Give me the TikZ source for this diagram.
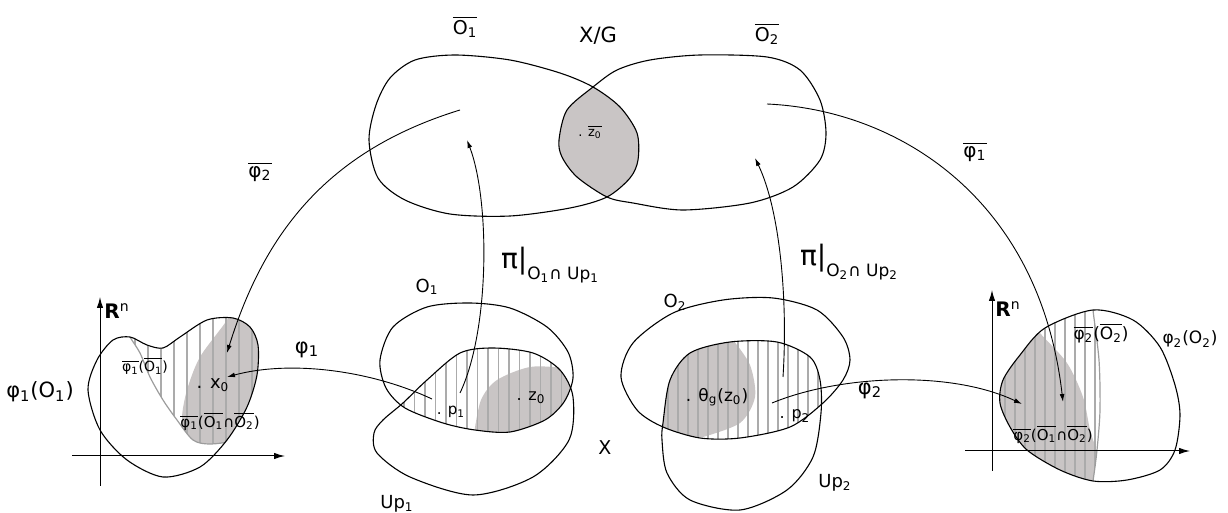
\documentclass[tikz,border=0pt]{standalone}
\usepackage{fontspec}
\setmainfont{DejaVu Sans}
\usetikzlibrary{arrows.meta}
\definecolor{shadeGrey}{HTML}{C9C5C5}
\definecolor{hatchGrey}{HTML}{ABABAB}
\definecolor{rimGrey}{HTML}{9C9C9C}

\newcommand{\ovl}[1]{$\overline{\hbox{#1}}$}
\newcommand{\fsz}[1]{\fontsize{#1}{#1}\selectfont}

% outlines, in pixel units
\newcommand{\quotOne}{plot[smooth cycle] coordinates {(369,140) (376,105) (390,78) (415,60) (455,55) (510,60) (560,73) (593,87) (620,107) (637,133) (638,160) (630,178) (607,197) (570,208) (510,216) (450,214) (405,200) (378,178)}}
\newcommand{\quotTwo}{plot[smooth cycle] coordinates {(559,140) (567,110) (593,87) (617,70) (650,60) (700,55) (767,57) (800,70) (820,100) (826,133) (820,160) (793,187) (750,203) (683,210) (633,203) (607,197) (577,177) (562,157)}}
\newcommand{\chartOne}{plot[smooth cycle] coordinates {(380,360) (393,327) (427,307) (470,303) (510,308) (547,327) (568,352) (573,378) (564,402) (545,420) (510,432) (475,430) (443,423) (405,408) (386,388)}}
\newcommand{\patchOne}{plot[smooth cycle] coordinates {(427,380) (460,353) (493,348) (533,353) (560,370) (573,397) (569,440) (533,477) (473,495) (410,477) (377,453) (374,433) (383,420) (403,403)}}
\newcommand{\chartTwo}{plot[smooth cycle] coordinates {(621,377) (633,343) (673,313) (723,300) (773,298) (817,310) (843,337) (850,360) (843,380) (823,403) (790,427) (740,438) (700,438) (663,427) (637,410)}}
\newcommand{\patchTwo}{plot[smooth cycle] coordinates {(663,423) (670,380) (690,353) (730,342) (777,342) (810,357) (820,380) (821,413) (813,457) (787,490) (740,510) (690,500) (667,473) (662,440)}}
\newcommand{\imgOne}{plot[smooth cycle] coordinates {(88,390) (100,430) (127,460) (163,477) (200,467) (227,440) (247,407) (257,375) (258,345) (250,327) (233,318) (207,320) (180,337) (163,348) (147,345) (130,337) (113,340) (97,360)}}
\newcommand{\imgOneEdge}{plot[smooth] coordinates {(125,325) (130,337) (140,353) (150,377) (163,400) (177,420) (193,440) (210,444) (235,440) (265,425)}}
\newcommand{\imgTwo}{plot[smooth cycle] coordinates {(1093,310) (1133,320) (1160,347) (1175,385) (1180,415) (1175,450) (1160,470) (1127,480) (1093,481) (1060,470) (1027,450) (1010,427) (1000,403) (1003,380) (1020,355) (1045,328)}}
\newcommand{\imgTwoEdge}{plot[smooth] coordinates {(1093,300) (1093,310) (1099,360) (1100,410) (1097,450) (1093,481) (1090,495)}}

\tikzset{
  outline/.style={line width=0.55pt},
  hatch/.style={hatchGrey, line width=0.8pt},
  rim/.style={rimGrey, line width=0.6pt},
  arr/.style={-{Latex[length=4pt,width=2.4pt]}, line width=0.45pt},
  axis/.style={-{Latex[length=5.5pt,width=3.2pt]}, line width=0.5pt},
}

\begin{document}
\begin{tikzpicture}[x=0.5pt,y=-0.5pt]
  \useasboundingbox (0,0) rectangle (1228,513);

  % quotient X/G
  \begin{scope}
    \clip \quotTwo;
    \fill[shadeGrey] \quotOne;
  \end{scope}
  \draw[outline] \quotOne;
  \draw[outline] \quotTwo;

  % X, first chart
  \begin{scope}
    \clip \chartOne;
    \clip \patchOne;
    \fill[shadeGrey] (600,450) -- (472,450) -- plot[smooth] coordinates {(474,434) (481,400) (497,380) (530,367) (565,368) (600,372)} -- cycle;
    \foreach \x in {404,414.5,...,575} \draw[hatch] (\x,340) -- (\x,440);
  \end{scope}
  \draw[outline] \chartOne;
  \draw[outline] \patchOne;

  % X, second chart
  \begin{scope}
    \clip \chartTwo;
    \clip \patchTwo;
    \fill[shadeGrey] (630,330) -- (733,336) -- plot[smooth] coordinates {(733,340) (750,365) (755,397) (740,423) (703,437)} -- (630,450) -- cycle;
    \foreach \x in {668,678,...,822} \draw[hatch] (\x,330) -- (\x,445);
  \end{scope}
  \draw[outline] \chartTwo;
  \draw[outline] \patchTwo;

  % image of first chart
  \begin{scope}
    \clip \imgOne;
    \clip \imgOneEdge -- (300,425) -- (300,290) -- (120,290) -- cycle;
    \fill[shadeGrey] plot[smooth] coordinates {(235,300) (227,320) (200,357) (187,390) (182,417) (185,435) (195,446) (205,455)} -- (290,455) -- (290,300) -- cycle;
    \foreach \x in {122,135,...,262} \draw[hatch] (\x,300) -- (\x,460);
  \end{scope}
  \begin{scope}
    \clip \imgOne;
    \draw[rim] \imgOneEdge;
  \end{scope}
  \draw[axis] (72,456) -- (285,456);
  \draw[axis] (100,486) -- (100,297);
  \draw[outline] \imgOne;

  % image of second chart
  \begin{scope}
    \clip \imgTwo;
    \clip \imgTwoEdge -- (980,495) -- (980,300) -- cycle;
    \fill[shadeGrey] plot[smooth] coordinates {(1030,318) (1040,333) (1067,363) (1083,397) (1090,430) (1097,455) (1093,482) (1090,495)} -- (980,495) -- (980,318) -- cycle;
    \foreach \x in {1005,1015,...,1100} \draw[hatch] (\x,300) -- (\x,490);
  \end{scope}
  \begin{scope}
    \clip \imgTwo;
    \draw[rim] \imgTwoEdge;
  \end{scope}
  \draw[axis] (965,451) -- (1190,451);
  \draw[axis] (992,471) -- (992,290);
  \draw[outline] \imgTwo;

  % arrow ends
  \coordinate (barTwoFrom) at (460,110);
  \coordinate (barTwoTo) at (227,353);
  \coordinate (barOneFrom) at (767,104);
  \coordinate (barOneTo) at (1063,402);
  \coordinate (piOneFrom) at (460,393);
  \coordinate (piOneTo) at (467,140);
  \coordinate (piTwoFrom) at (783,377);
  \coordinate (piTwoTo) at (755,158);
  \coordinate (phiOneFrom) at (432,399);
  \coordinate (phiOneTo) at (227,377);
  \coordinate (phiTwoFrom) at (772,403);
  \coordinate (phiTwoTo) at (1022,404);

  \draw[arr] (barTwoFrom) .. controls (330,150) and (265,230) .. (barTwoTo);
  \draw[arr] (barOneFrom) .. controls (900,110) and (1040,200) .. (barOneTo);
  \draw[arr] (piOneFrom) .. controls (490,330) and (490,200) .. (piOneTo);
  \draw[arr] (piTwoFrom) .. controls (788,300) and (780,210) .. (piTwoTo);
  \draw[arr] (phiOneFrom) .. controls (370,370) and (290,360) .. (phiOneTo);
  \draw[arr] (phiTwoFrom) .. controls (840,375) and (950,370) .. (phiTwoTo);

  % labels
  \node[font=\fsz{9.5}] (lblQuotOne) at (465,27) {\ovl{O\textsubscript{1}}};
  \node[font=\fsz{10.5}] (lblXG) at (598,36) {X/G};
  \node[font=\fsz{9.5}] (lblQuotTwo) at (767,34) {\ovl{O\textsubscript{2}}};
  \node[font=\fsz{6.5}] (lblZBar) at (590,132) {. \ovl{z\textsubscript{0}}};
  \node[font=\fsz{10}] (lblBarTwo) at (260,172) {\ovl{φ\textsubscript{2}}};
  \node[font=\fsz{10}] (lblBarOne) at (975,152) {\ovl{φ\textsubscript{1}}};
  \node[font=\fsz{14}, anchor=west] (lblPiOne) at (494,265) {π|\raisebox{-0.7ex}{\fsz{8.5}O\textsubscript{1}∩ Up\textsubscript{1}}};
  \node[font=\fsz{14}, anchor=west] (lblPiTwo) at (793,262) {π|\raisebox{-0.7ex}{\fsz{8.5}O\textsubscript{2}∩ Up\textsubscript{2}}};
  \node[font=\fsz{10.5}] (lblPhiOne) at (307,350) {φ\textsubscript{1}};
  \node[font=\fsz{10.5}] (lblPhiTwo) at (870,391) {φ\textsubscript{2}};
  \node[font=\fsz{9}] (lblChartOne) at (427,287) {O\textsubscript{1}};
  \node[font=\fsz{9}] (lblChartTwo) at (675,302) {O\textsubscript{2}};
  \node[font=\fsz{9}] (lblPatchOne) at (397,504) {Up\textsubscript{1}};
  \node[font=\fsz{9}] (lblPatchTwo) at (835,483) {Up\textsubscript{2}};
  \node[font=\fsz{9.5}] (lblX) at (605,448) {X};
  \node[font=\fsz{7.5}] (lblPOne) at (451,412) {. p\textsubscript{1}};
  \node[font=\fsz{8}] (lblZ) at (531,398) {. z\textsubscript{0}};
  \node[font=\fsz{8.5}] (lblTheta) at (717,397) {. θ\textsubscript{g}(z\textsubscript{0})};
  \node[font=\fsz{8}] (lblPTwo) at (795,416) {. p\textsubscript{2}};
  \node[font=\fsz{10.5}] (lblImgOne) at (40,392) {φ\textsubscript{1}(O\textsubscript{1})};
  \node[font=\fsz{10}] (lblRnOne) at (117,311) {\textbf{R}\textsuperscript{n}};
  \node[font=\fsz{7}] (lblImgOneBar) at (145,366) {\ovl{φ\textsubscript{1}}(\ovl{O\textsubscript{1}})};
  \node[font=\fsz{9}] (lblXZero) at (213,385) {. x\textsubscript{0}};
  \node[font=\fsz{7.5}] (lblImgOneCap) at (220,421) {\ovl{φ\textsubscript{1}}(\ovl{O\textsubscript{1}}∩\ovl{O\textsubscript{2}})};
  \node[font=\fsz{10}] (lblRnTwo) at (1008,309) {\textbf{R}\textsuperscript{n}};
  \node[font=\fsz{8.5}] (lblImgTwoBar) at (1101,333) {\ovl{φ\textsubscript{2}}(\ovl{O\textsubscript{2}})};
  \node[font=\fsz{8.5}] (lblImgTwo) at (1190,339) {φ\textsubscript{2}(O\textsubscript{2})};
  \node[font=\fsz{7.5}] (lblImgTwoCap) at (1053,434) {\ovl{φ\textsubscript{2}}(\ovl{O\textsubscript{1}}∩\ovl{O\textsubscript{2}})};
\end{tikzpicture}
\end{document}
